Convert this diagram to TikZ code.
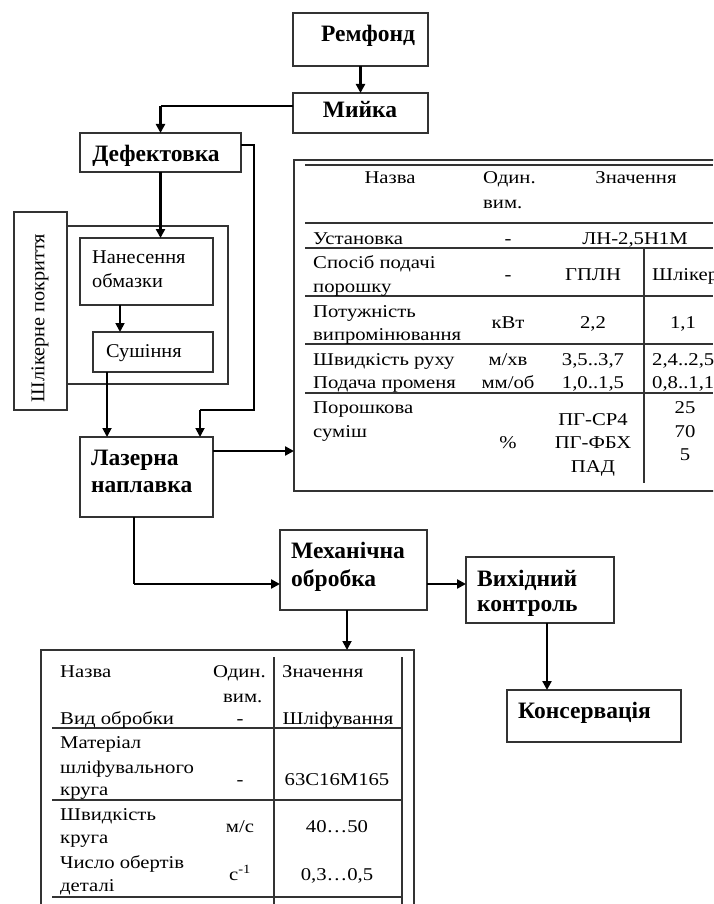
\documentclass[tikz,border=0pt]{standalone}
\usepackage{fontspec}
\setmainfont{Liberation Serif}
\newfontfamily\tabfont[FakeStretch=1.15]{Liberation Serif}
\newfontfamily\flowfont[FakeStretch=1.04]{Liberation Serif}
\usetikzlibrary{arrows.meta,calc}
\begin{document}
\begin{tikzpicture}[x=1pt,y=-1pt,
  frame/.style={draw=black!80,line width=1.2pt,inner sep=0pt,outer sep=0pt},
  rule/.style={draw=black!80,line width=1.1pt},
  thinln/.style={draw=black,line width=1.3pt},
  arr/.style={draw=black,line width=2.6pt,-{Triangle[length=9pt,width=9pt]}},
  marr/.style={draw=black,line width=1.8pt,-{Triangle[length=9pt,width=9pt]}},
  bt/.style={font=\fontsize{23.5}{27}\selectfont\bfseries,inner sep=0pt},
  rt/.style={font=\flowfont\fontsize{19.5}{23}\selectfont,inner sep=0pt},
  tt/.style={font=\tabfont\fontsize{18}{20}\selectfont,inner sep=0pt},
]
\useasboundingbox (0,0) rectangle (713,904);
\clip (0,0) rectangle (713,904);

% boxes
\node[frame,minimum width=135pt,minimum height=53pt,anchor=north west] (remfond) at (293,13) {};
\node[frame,minimum width=135pt,minimum height=40pt,anchor=north west] (myika) at (293,93) {};
\node[frame,minimum width=161pt,minimum height=39pt,anchor=north west] (defekt) at (80,133) {};
\node[frame,minimum width=161pt,minimum height=158pt,anchor=north west] (grp) at (67,226) {};
\node[frame,fill=white,minimum width=53pt,minimum height=198pt,anchor=north west] (shlik) at (14,212) {};
\node[frame,minimum width=133pt,minimum height=67pt,anchor=north west] (nanes) at (80,238) {};
\node[frame,minimum width=120pt,minimum height=40pt,anchor=north west] (sush) at (93,332) {};
\node[frame,minimum width=133pt,minimum height=80pt,anchor=north west] (lazer) at (80,437) {};
\node[frame,minimum width=460pt,minimum height=331pt,anchor=north west] (tab1) at (294,160) {};
\node[frame,minimum width=147pt,minimum height=80pt,anchor=north west] (mech) at (280,530) {};
\node[frame,minimum width=148pt,minimum height=66pt,anchor=north west] (vykh) at (466,557) {};
\node[frame,minimum width=174pt,minimum height=52pt,anchor=north west] (kons) at (507,690) {};
\node[frame,minimum width=373pt,minimum height=290pt,anchor=north west] (tab2) at (41,650) {};

% box texts
\node[bt,anchor=base] (t1) at (368,42) {Ремфонд};
\node[bt,anchor=base] (t2) at (360,118) {Мийка};
\node[bt,anchor=base] (t3) at (156,162) {Дефектовка};
\node[rt,anchor=base west] (t4) at (92,263) {Нанесення};
\node[rt,anchor=base west] (t5) at (92,287) {обмазки};
\node[rt,anchor=base west] (t6) at (106,357) {Сушіння};
\node[rt,rotate=90] (t7) at (40,318) {Шлікерне покриття};
\node[bt,anchor=base west] (t8) at (91,465) {Лазерна};
\node[bt,anchor=base west] (t9) at (91,492) {наплавка};
\node[bt,anchor=base west] (t10) at (291,558) {Механічна};
\node[bt,anchor=base west] (t11) at (291,586) {обробка};
\node[bt,anchor=base west] (t12) at (477,586) {Вихідний};
\node[bt,anchor=base west] (t13) at (477,611) {контроль};
\node[bt,anchor=base west] (t14) at (518,718) {Консервація};

% connectors
\draw[arr] (remfond.south) -- (myika.north);
\coordinate (c0) at ([yshift=7pt]myika.west);
\draw[thinln] (c0) -- (c0 -| defekt.north);
\draw[arr] (c0 -| defekt.north) -- (defekt.north);
\draw[arr] (defekt.south) -- (defekt.south |- nanes.north);
\coordinate (c2) at ([xshift=40pt]nanes.south west);
\draw[marr] (c2) -- (c2 |- sush.north);
\coordinate (c3) at ([xshift=14pt]sush.south west);
\draw[marr] (c3) -- (c3 |- lazer.north);
\coordinate (c4) at ([yshift=7.5pt]defekt.east);
\coordinate (c5) at ([xshift=-13pt]lazer.north east);
\coordinate (c6) at ([yshift=27pt]c5);
\draw[thinln] (c4) -- ++(13,0) |- (c6);
\draw[marr] (c6) -- (c5);
\coordinate (c7) at ([yshift=26pt]lazer.east);
\draw[arr] (c7) -- (c7 -| tab1.west);
\coordinate (c8) at ([xshift=54pt]lazer.south west);
\coordinate (c9) at ([yshift=-14pt]mech.west);
\draw[thinln] (c8) -- (c8 |- c9);
\draw[arr] (c8 |- c9) -- (c9);
\coordinate (c10) at ([yshift=-14pt]mech.east);
\draw[arr] (c10) -- (c10 -| vykh.west);
\coordinate (c11) at ([xshift=-6.5pt]mech.south);
\draw[marr] (c11) -- (c11 |- tab2.north);
\coordinate (c12) at ([xshift=7pt]vykh.south);
\draw[arr] (c12) -- (c12 |- kons.north);

% table 1 rules
\foreach \yy in {165,223,248,296,344,393}
  \draw[rule] (305,\yy) -- (713,\yy);
\draw[rule] (644,248) -- (644,483);

% table 1 texts
\begin{scope}[every node/.style={tt}]
\node[anchor=base] at (390,184) {Назва};
\node[anchor=base west] at (483,184) {Один.};
\node[anchor=base west] at (483,208) {вим.};
\node[anchor=base] at (636,184) {Значення};
\node[anchor=base west] at (313,244) {Установка};
\node[anchor=base] at (508,244) {-};
\node[anchor=base] at (635,244) {ЛН-2,5Н1М};
\node[anchor=base west] at (313,268) {Спосіб подачі};
\node[anchor=base west] at (313,292) {порошку};
\node[anchor=base] at (508,280) {-};
\node[anchor=base] at (593,280) {ГПЛН};
\node[anchor=base west] at (652,280) {Шлікер};
\node[anchor=base west] at (313,317) {Потужність};
\node[anchor=base west] at (313,340) {випромінювання};
\node[anchor=base] at (508,328) {кВт};
\node[anchor=base] at (593,328) {2,2};
\node[anchor=base] at (683,328) {1,1};
\node[anchor=base west] at (313,365) {Швидкість руху};
\node[anchor=base] at (508,365) {м/хв};
\node[anchor=base] at (593,365) {3,5..3,7};
\node[anchor=base west] at (652,365) {2,4..2,5};
\node[anchor=base west] at (313,388) {Подача променя};
\node[anchor=base] at (508,388) {мм/об};
\node[anchor=base] at (593,388) {1,0..1,5};
\node[anchor=base west] at (652,388) {0,8..1,1};
\node[anchor=base west] at (313,413) {Порошкова};
\node[anchor=base west] at (313,437) {суміш};
\node[anchor=base] at (508,448) {\%};
\node[anchor=base] at (593,425) {ПГ-СР4};
\node[anchor=base] at (593,448) {ПГ-ФБХ};
\node[anchor=base] at (593,472) {ПАД};
\node[anchor=base] at (685,413) {25};
\node[anchor=base] at (685,437) {70};
\node[anchor=base] at (685,460) {5};
\end{scope}

% table 2 rules
\foreach \yy in {728,800,897}
  \draw[rule] (52,\yy) -- (402,\yy);
\draw[rule] (274,657) -- (274,904);
\draw[rule] (402,657) -- (402,904);

% table 2 texts
\begin{scope}[every node/.style={tt}]
\node[anchor=base west] at (60,677) {Назва};
\node[anchor=base west] at (213,677) {Один.};
\node[anchor=base west] at (223,702) {вим.};
\node[anchor=base west] at (282,677) {Значення};
\node[anchor=base west] at (60,724) {Вид обробки};
\node[anchor=base] at (240,724) {-};
\node[anchor=base] at (338,724) {Шліфування};
\node[anchor=base west] at (60,748) {Матеріал};
\node[anchor=base west] at (60,773) {шліфувального};
\node[anchor=base west] at (60,795) {круга};
\node[anchor=base] at (240,785) {-};
\node[anchor=base] at (337,785) {63С16М165};
\node[anchor=base west] at (60,820) {Швидкість};
\node[anchor=base west] at (60,843) {круга};
\node[anchor=base] at (240,832) {м/с};
\node[anchor=base] at (337,832) {40…50};
\node[anchor=base west] at (60,868) {Число обертів};
\node[anchor=base west] at (60,891) {деталі};
\node[anchor=base] at (240,880) {с\textsuperscript{-1}};
\node[anchor=base] at (337,880) {0,3…0,5};
\end{scope}
\end{tikzpicture}
\end{document}
